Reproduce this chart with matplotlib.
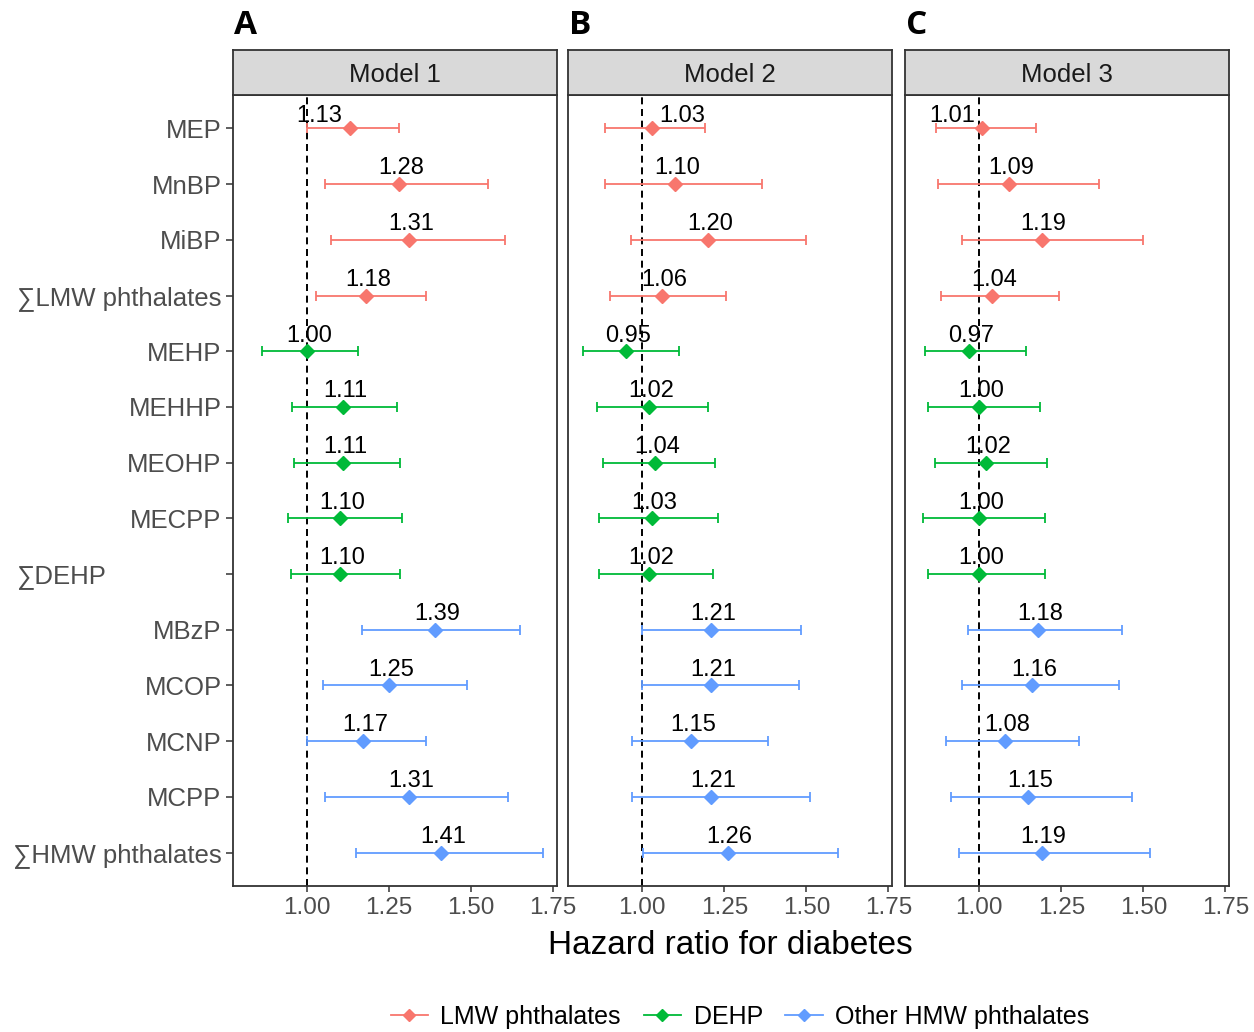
import matplotlib
matplotlib.use("Agg")
import matplotlib.pyplot as plt
from matplotlib.lines import Line2D
from matplotlib.transforms import blended_transform_factory

plt.rcParams['font.family'] = ['Liberation Sans', 'DejaVu Sans']

# ---------------- data ----------------
exposures = ["MEP", "MnBP", "MiBP", "\u2211LMW phthalates",
             "MEHP", "MEHHP", "MEOHP", "MECPP", "\u2211DEHP",
             "MBzP", "MCOP", "MCNP", "MCPP", "\u2211HMW phthalates"]
groups = ["LMW phthalates"] * 4 + ["DEHP"] * 5 + ["Other HMW phthalates"] * 5
models = ["Model 1", "Model 2", "Model 3"]
panel_letters = ["A", "B", "C"]

hr_m1 = [1.13, 1.28, 1.31, 1.18, 1.00, 1.11, 1.11, 1.10, 1.10, 1.39, 1.25, 1.17, 1.31, 1.41]
lo_m1 = [1.000, 1.054, 1.072, 1.029, 0.863, 0.956, 0.960, 0.942, 0.952, 1.167, 1.048, 1.000, 1.055, 1.151]
hi_m1 = [1.280, 1.551, 1.605, 1.363, 1.156, 1.273, 1.284, 1.289, 1.284, 1.649, 1.487, 1.362, 1.614, 1.718]

hr_m2 = [1.03, 1.10, 1.20, 1.06, 0.95, 1.02, 1.04, 1.03, 1.02, 1.21, 1.21, 1.15, 1.21, 1.26]
lo_m2 = [0.888, 0.888, 0.966, 0.903, 0.820, 0.862, 0.882, 0.869, 0.869, 1.000, 1.000, 0.970, 0.970, 1.002]
hi_m2 = [1.191, 1.366, 1.499, 1.254, 1.113, 1.201, 1.221, 1.230, 1.215, 1.484, 1.479, 1.382, 1.512, 1.596]

hr_m3 = [1.01, 1.09, 1.19, 1.04, 0.97, 1.00, 1.02, 1.00, 1.00, 1.18, 1.16, 1.08, 1.15, 1.19]
lo_m3 = [0.867, 0.875, 0.948, 0.883, 0.835, 0.845, 0.864, 0.830, 0.845, 0.966, 0.949, 0.898, 0.913, 0.938]
hi_m3 = [1.173, 1.366, 1.499, 1.244, 1.142, 1.186, 1.207, 1.202, 1.202, 1.435, 1.425, 1.304, 1.465, 1.519]

xticks = [1.00, 1.25, 1.50, 1.75]
xtick_labels = ["1.00", "1.25", "1.50", "1.75"]

hr_all = [hr_m1, hr_m2, hr_m3]
lo_all = [lo_m1, lo_m2, lo_m3]
hi_all = [hi_m1, hi_m2, hi_m3]

colors = {"LMW phthalates": "#F8766D", "DEHP": "#00BA38", "Other HMW phthalates": "#619CFF"}
group_order = ["LMW phthalates", "DEHP", "Other HMW phthalates"]

# ---------------- layout ----------------
W, H = 1254, 1032
fig = plt.figure(figsize=(W / 100, H / 100), dpi=100)

panel_left_px = [232.7, 568, 905]
panel_w_px = 324
top_px, bottom_px = 95, 886
strip_h_px = 45
xlim = (0.774, 1.761)
n = len(exposures)

tick_col = "#4D4D4D"
frame_col = "#333333"
# nudges for the first-row labels (repelled from the strip)
first_row_dx = [-22, 22, -22]

for p in range(3):
    ax = fig.add_axes([panel_left_px[p] / W, 1 - bottom_px / H,
                       panel_w_px / W, (bottom_px - top_px) / H])
    ax.set_xlim(*xlim)
    ax.set_ylim(n + 0.6, 0.4)
    ax.axvline(1.0, color="black", lw=1.4, ls=(0, (3.6, 2.4)), zorder=1)
    for i in range(n):
        y = i + 1
        c = colors[groups[i]]
        hr, lo, hi = hr_all[p][i], lo_all[p][i], hi_all[p][i]
        ax.errorbar([hr], [y], xerr=[[hr - lo], [hi - hr]], fmt="none",
                    ecolor=c, elinewidth=1.3, capsize=3.6, capthick=1.3, zorder=2)
        ax.plot([hr], [y], marker="D", ms=7.5, color=c, mec=c, ls="none", zorder=3)
        if i == 0:
            dx, dy = first_row_dx[p], 4.5
        else:
            dx, dy = 1.5, 7.0
        ax.annotate(f"{hr:.2f}", (hr, y), xytext=(dx, dy), textcoords="offset points",
                    ha="center", va="baseline", fontsize=17, color="black", zorder=4)
    ax.set_xticks(xticks)
    ax.set_xticklabels(xtick_labels)
    ax.tick_params(axis="x", length=4, width=1.1, color=frame_col, labelsize=17.5,
                   labelcolor=tick_col, pad=4)
    if p == 0:
        ax.set_yticks(range(1, n + 1))
        labels = [lab if lab != "\u2211DEHP" else "" for lab in exposures]
        ax.set_yticklabels(labels)
        ax.tick_params(axis="y", length=5, width=1.1, color=frame_col, labelsize=18.5,
                       labelcolor=tick_col, pad=3)
        tr = blended_transform_factory(fig.transFigure, ax.transData)
        k = exposures.index("\u2211DEHP")
        ax.text(16 / W, k + 1 + 0.05, "\u2211DEHP", transform=tr, ha="left", va="center",
                fontsize=18.5, color=tick_col)
    else:
        ax.set_yticks([])
    for s in ax.spines.values():
        s.set_color(frame_col)
        s.set_linewidth(1.3)

    # strip
    sax = fig.add_axes([panel_left_px[p] / W, 1 - top_px / H,
                        panel_w_px / W, strip_h_px / H])
    sax.set_facecolor("#D9D9D9")
    sax.set_xticks([])
    sax.set_yticks([])
    for s in sax.spines.values():
        s.set_color(frame_col)
        s.set_linewidth(1.3)
    sax.text(0.5, 0.45, models[p], ha="center", va="center", fontsize=18.5,
             color="#1A1A1A", transform=sax.transAxes)

    # panel letters
    fig.text((panel_left_px[p] + 1) / W, 1 - 34 / H, panel_letters[p], ha="left",
             va="baseline", fontsize=24, fontweight="bold", color="black",
             family=["Open Sans", "DejaVu Sans"])

fig.text(730 / W, 1 - 946 / H, "Hazard ratio for diabetes", ha="center", va="center",
         fontsize=24, color="black")

handles = [Line2D([0], [0], color=colors[g], marker="D", ms=6.5, lw=1.3) for g in group_order]
fig.legend(handles, group_order, loc="center", bbox_to_anchor=(740 / W, 1 - 1017 / H),
           ncol=3, frameon=False, fontsize=18, handlelength=1.5, handletextpad=0.5,
           columnspacing=0.9, labelcolor="black")

fig.savefig("out.png", dpi=100, facecolor="white")
